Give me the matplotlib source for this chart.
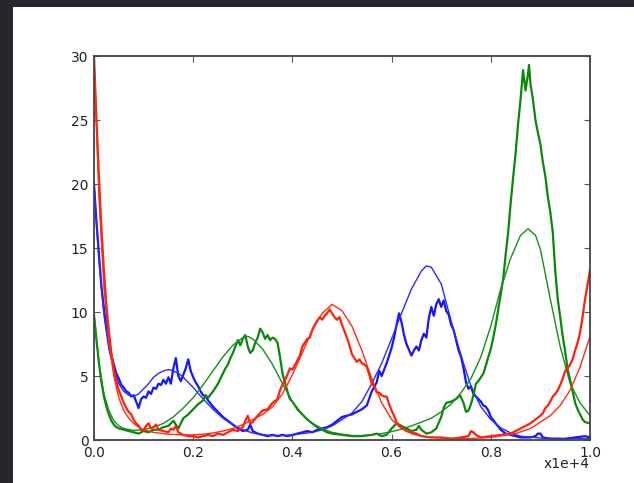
import matplotlib
matplotlib.use('Agg')
import matplotlib.pyplot as plt
from matplotlib.patches import Rectangle

# x positions are in units of 1e4 (as on the axis)
blue_noisy_x = [0.000, 0.005, 0.010, 0.015, 0.020, 0.025, 0.030, 0.035, 0.040, 0.045,
                0.050, 0.055, 0.060, 0.065, 0.070, 0.075, 0.080, 0.085, 0.090, 0.095,
                0.100, 0.105, 0.110, 0.115, 0.120, 0.125, 0.130, 0.135, 0.140, 0.145,
                0.150, 0.155, 0.160, 0.165, 0.170, 0.175, 0.180, 0.185, 0.190, 0.195,
                0.200, 0.205, 0.210, 0.215, 0.220, 0.225, 0.230, 0.240, 0.250, 0.260,
                0.270, 0.280, 0.290, 0.300, 0.310, 0.315, 0.320, 0.330, 0.340, 0.350,
                0.360, 0.370, 0.380, 0.390, 0.400, 0.410, 0.420, 0.430, 0.440, 0.450,
                0.460, 0.470, 0.480, 0.490, 0.500, 0.510, 0.520, 0.530, 0.540, 0.550,
                0.560, 0.570, 0.575, 0.580, 0.590, 0.600, 0.605, 0.610, 0.615, 0.620,
                0.625, 0.630, 0.640, 0.645, 0.650, 0.655, 0.660, 0.665, 0.670, 0.675,
                0.680, 0.685, 0.690, 0.695, 0.700, 0.705, 0.710, 0.715, 0.720, 0.725,
                0.730, 0.735, 0.740, 0.745, 0.750, 0.755, 0.760, 0.765, 0.770, 0.780,
                0.785, 0.790, 0.795, 0.800, 0.810, 0.820, 0.830, 0.840, 0.850, 0.860,
                0.880, 0.890, 0.895, 0.900, 0.905, 0.920, 0.950, 0.970, 0.990, 1.000]
blue_noisy_y = [20.0, 17.0, 14.5, 12.0, 10.3, 8.8, 7.6, 6.6, 5.9, 5.2,
                4.8, 4.3, 4.1, 3.8, 3.7, 3.4, 3.5, 3.0, 2.5, 3.2,
                3.4, 3.3, 3.8, 3.6, 4.1, 4.0, 4.4, 4.3, 4.7, 4.4,
                4.9, 4.4, 5.6, 6.4, 5.0, 4.6, 5.1, 5.6, 6.3, 5.4,
                4.9, 4.5, 4.2, 3.8, 3.5, 3.4, 3.1, 2.6, 2.2, 1.8,
                1.5, 1.2, 0.9, 0.7, 0.8, 1.2, 0.7, 0.5, 0.4, 0.3,
                0.4, 0.3, 0.4, 0.3, 0.4, 0.5, 0.6, 0.7, 0.6, 0.8,
                0.9, 1.0, 1.2, 1.5, 1.8, 1.9, 2.0, 2.2, 2.4, 2.7,
                3.8, 4.5, 5.4, 5.0, 6.0, 7.2, 8.0, 9.0, 9.9, 9.2,
                8.2, 7.5, 6.6, 7.0, 7.3, 7.0, 7.8, 8.3, 8.0, 9.5,
                10.4, 9.7, 10.6, 11.0, 10.4, 10.9, 10.1, 9.8, 9.0, 8.6,
                7.8, 7.0, 6.5, 5.6, 4.5, 4.0, 4.2, 3.6, 3.4, 3.0,
                2.7, 2.6, 2.3, 1.8, 1.3, 0.8, 0.5, 0.4, 0.3, 0.2,
                0.2, 0.3, 0.5, 0.5, 0.2, 0.1, 0.1, 0.2, 0.3, 0.2]

blue_fit_x = [0.00, 0.01, 0.02, 0.03, 0.04, 0.05, 0.06, 0.07, 0.08, 0.09,
              0.10, 0.11, 0.12, 0.13, 0.14, 0.15, 0.16, 0.17, 0.18, 0.19,
              0.20, 0.22, 0.24, 0.26, 0.28, 0.30, 0.32, 0.34, 0.36, 0.38,
              0.40, 0.42, 0.44, 0.46, 0.48, 0.50, 0.52, 0.54, 0.56, 0.58,
              0.60, 0.62, 0.64, 0.66, 0.67, 0.68, 0.70, 0.72, 0.74, 0.76,
              0.78, 0.80, 0.82, 0.84, 0.86, 0.90, 0.95, 1.00]
blue_fit_y = [20.0, 14.0, 9.8, 7.1, 5.5, 4.4, 3.8, 3.5, 3.4, 3.6,
              4.0, 4.4, 4.9, 5.2, 5.4, 5.5, 5.4, 5.2, 4.9, 4.5,
              4.1, 3.2, 2.4, 1.7, 1.2, 0.8, 0.55, 0.4, 0.35, 0.35,
              0.4, 0.5, 0.6, 0.8, 1.1, 1.6, 2.1, 3.0, 4.4, 6.0,
              7.9, 9.9, 11.8, 13.2, 13.6, 13.5, 12.2, 9.3, 6.6, 4.2,
              2.6, 1.6, 0.95, 0.55, 0.3, 0.15, 0.1, 0.1]

red_noisy_x = [0.000, 0.005, 0.010, 0.015, 0.020, 0.025, 0.030, 0.035, 0.040, 0.045,
               0.050, 0.055, 0.060, 0.065, 0.070, 0.075, 0.080, 0.085, 0.090, 0.095,
               0.100, 0.105, 0.110, 0.115, 0.120, 0.125, 0.130, 0.140, 0.150, 0.155,
               0.160, 0.165, 0.170, 0.180, 0.190, 0.200, 0.210, 0.220, 0.230, 0.240,
               0.250, 0.260, 0.270, 0.280, 0.290, 0.300, 0.305, 0.310, 0.315, 0.320,
               0.330, 0.340, 0.350, 0.360, 0.370, 0.375, 0.380, 0.390, 0.395, 0.400,
               0.410, 0.415, 0.420, 0.430, 0.435, 0.440, 0.445, 0.450, 0.455, 0.460,
               0.465, 0.470, 0.475, 0.480, 0.485, 0.490, 0.495, 0.500, 0.505, 0.510,
               0.515, 0.520, 0.525, 0.530, 0.535, 0.540, 0.545, 0.550, 0.555, 0.560,
               0.565, 0.570, 0.575, 0.580, 0.585, 0.590, 0.595, 0.600, 0.605, 0.610,
               0.615, 0.620, 0.630, 0.640, 0.650, 0.660, 0.680, 0.700, 0.720, 0.740,
               0.755, 0.760, 0.765, 0.770, 0.780, 0.800, 0.820, 0.840, 0.850, 0.860,
               0.870, 0.880, 0.890, 0.900, 0.905, 0.910, 0.915, 0.920, 0.925, 0.930,
               0.935, 0.940, 0.945, 0.950, 0.955, 0.960, 0.965, 0.970, 0.975, 0.980,
               0.985, 0.990, 0.995, 1.000]
red_noisy_y = [30.0, 25.0, 20.5, 16.5, 13.2, 10.5, 8.5, 6.8, 5.5, 4.6,
               3.9, 3.4, 2.9, 2.5, 2.2, 2.0, 1.6, 1.3, 1.1, 0.8,
               0.8, 1.1, 1.3, 0.9, 1.0, 1.2, 0.8, 0.7, 0.6, 0.9,
               0.8, 1.1, 0.6, 0.4, 0.3, 0.3, 0.2, 0.3, 0.4, 0.3,
               0.5, 0.4, 0.6, 0.8, 0.7, 1.0, 1.5, 1.9, 1.3, 1.4,
               1.9, 2.3, 2.4, 2.9, 3.2, 3.9, 4.3, 5.1, 5.6, 5.5,
               6.2, 6.6, 7.3, 7.9, 8.0, 8.6, 9.0, 9.3, 9.6, 9.4,
               9.7, 9.9, 10.2, 9.9, 9.6, 9.4, 9.6, 9.0, 8.5, 8.0,
               7.4, 6.7, 6.4, 6.1, 6.3, 6.0, 5.9, 5.7, 5.1, 4.4,
               4.2, 3.7, 3.7, 3.5, 3.4, 3.4, 2.8, 2.3, 1.9, 1.4,
               1.1, 1.0, 0.7, 0.6, 0.5, 0.3, 0.2, 0.2, 0.1, 0.2,
               0.3, 0.7, 0.6, 0.4, 0.2, 0.3, 0.4, 0.5, 0.7, 0.9,
               1.1, 1.3, 1.6, 1.9, 2.1, 2.5, 2.7, 3.0, 3.4, 3.6,
               3.9, 4.3, 4.8, 5.4, 5.6, 5.9, 6.3, 7.0, 7.6, 8.4,
               9.6, 11.0, 12.1, 13.3]

red_fit_x = [0.00, 0.01, 0.02, 0.03, 0.04, 0.05, 0.06, 0.07, 0.08, 0.09,
             0.10, 0.12, 0.15, 0.18, 0.20, 0.22, 0.24, 0.26, 0.28, 0.30,
             0.32, 0.34, 0.36, 0.38, 0.40, 0.42, 0.44, 0.46, 0.48, 0.50,
             0.52, 0.54, 0.56, 0.58, 0.60, 0.62, 0.64, 0.66, 0.70, 0.75,
             0.80, 0.85, 0.88, 0.90, 0.92, 0.94, 0.96, 0.98, 1.00]
red_fit_y = [30.0, 19.0, 12.0, 7.6, 5.0, 3.3, 2.3, 1.7, 1.3, 1.0,
             0.8, 0.6, 0.45, 0.4, 0.4, 0.45, 0.55, 0.7, 0.9, 1.2,
             1.6, 2.0, 2.6, 3.6, 5.1, 6.8, 8.6, 9.9, 10.6, 10.1,
             8.9, 7.0, 4.8, 2.9, 1.6, 0.9, 0.5, 0.3, 0.15, 0.1,
             0.2, 0.5, 0.9, 1.4, 1.9, 2.7, 3.9, 5.7, 8.1]

green_noisy_x = [0.000, 0.005, 0.010, 0.015, 0.020, 0.025, 0.030, 0.035, 0.040, 0.045,
                 0.050, 0.060, 0.070, 0.080, 0.090, 0.100, 0.110, 0.120, 0.130, 0.140,
                 0.150, 0.155, 0.160, 0.165, 0.170, 0.175, 0.180, 0.190, 0.200, 0.210,
                 0.220, 0.225, 0.230, 0.240, 0.250, 0.255, 0.260, 0.265, 0.270, 0.275,
                 0.280, 0.285, 0.290, 0.295, 0.300, 0.305, 0.310, 0.315, 0.320, 0.325,
                 0.330, 0.335, 0.340, 0.345, 0.350, 0.355, 0.360, 0.365, 0.370, 0.375,
                 0.380, 0.385, 0.390, 0.395, 0.400, 0.410, 0.420, 0.430, 0.440, 0.450,
                 0.460, 0.470, 0.480, 0.500, 0.520, 0.540, 0.560, 0.570, 0.580, 0.590,
                 0.600, 0.610, 0.615, 0.620, 0.630, 0.640, 0.650, 0.655, 0.660, 0.670,
                 0.680, 0.690, 0.700, 0.705, 0.710, 0.720, 0.730, 0.738, 0.745, 0.750,
                 0.755, 0.760, 0.765, 0.770, 0.775, 0.780, 0.785, 0.790, 0.795, 0.800,
                 0.805, 0.810, 0.815, 0.820, 0.825, 0.830, 0.835, 0.840, 0.845, 0.850,
                 0.855, 0.860, 0.865, 0.870, 0.875, 0.877, 0.880, 0.885, 0.890, 0.895,
                 0.900, 0.905, 0.910, 0.915, 0.920, 0.925, 0.930, 0.935, 0.940, 0.945,
                 0.950, 0.955, 0.960, 0.965, 0.970, 0.975, 0.980, 0.985, 0.990, 1.000]
green_noisy_y = [9.8, 7.8, 6.0, 4.5, 3.4, 2.6, 2.0, 1.5, 1.2, 1.0,
                 0.9, 0.8, 0.7, 0.6, 0.5, 0.7, 0.6, 0.8, 0.8, 1.0,
                 1.1, 1.3, 1.5, 1.2, 0.9, 1.3, 1.7, 2.0, 2.4, 2.8,
                 3.1, 3.5, 3.3, 3.8, 4.4, 4.8, 5.2, 5.6, 5.9, 6.4,
                 6.8, 7.3, 7.8, 7.4, 7.9, 8.2, 7.3, 6.8, 7.0, 7.6,
                 8.0, 8.7, 8.4, 7.9, 8.2, 7.8, 8.0, 7.9, 7.6, 6.5,
                 5.2, 4.5, 3.8, 3.2, 3.0, 2.4, 2.0, 1.6, 1.3, 1.0,
                 0.8, 0.6, 0.5, 0.4, 0.3, 0.3, 0.4, 0.5, 0.3, 0.4,
                 0.9, 1.3, 1.2, 1.1, 0.9, 0.7, 0.8, 1.1, 0.8, 0.5,
                 0.6, 0.9, 1.8, 2.5, 2.9, 3.0, 3.2, 3.5, 2.9, 2.2,
                 2.3, 2.8, 3.5, 4.4, 4.6, 4.9, 5.2, 5.8, 6.5, 7.1,
                 8.0, 9.0, 10.2, 11.4, 12.6, 14.5, 16.2, 18.5, 20.5, 22.4,
                 24.7, 26.6, 28.9, 27.3, 28.6, 29.3, 27.8, 26.6, 25.0, 24.0,
                 23.1, 21.7, 20.6, 19.0, 17.8, 16.2, 13.2, 11.0, 9.6, 8.1,
                 6.9, 5.5, 4.7, 3.8, 2.9, 2.4, 2.0, 1.6, 1.4, 1.3]

green_fit_x = [0.00, 0.01, 0.02, 0.03, 0.04, 0.05, 0.06, 0.08, 0.10, 0.12,
               0.14, 0.16, 0.18, 0.20, 0.22, 0.24, 0.26, 0.28, 0.30, 0.31,
               0.32, 0.34, 0.36, 0.38, 0.40, 0.42, 0.44, 0.46, 0.48, 0.50,
               0.52, 0.54, 0.56, 0.58, 0.60, 0.62, 0.64, 0.66, 0.68, 0.70,
               0.72, 0.74, 0.76, 0.78, 0.80, 0.82, 0.84, 0.86, 0.875, 0.89,
               0.90, 0.92, 0.94, 0.96, 0.98, 1.00]
green_fit_y = [9.8, 6.0, 3.6, 2.3, 1.5, 1.1, 0.9, 0.75, 0.8, 1.0,
               1.3, 1.8, 2.5, 3.3, 4.3, 5.4, 6.5, 7.4, 8.0, 8.1,
               7.9, 7.1, 5.9, 4.4, 3.0, 2.0, 1.3, 0.9, 0.6, 0.45,
               0.35, 0.35, 0.4, 0.5, 0.65, 0.85, 1.1, 1.4, 1.7, 2.2,
               2.8, 3.7, 4.8, 6.5, 8.9, 11.8, 14.2, 16.0, 16.5, 16.0,
               14.9, 11.0, 7.3, 4.4, 2.9, 1.9]

x_ticks = [0.0, 0.2, 0.4, 0.6, 0.8, 1.0]
y_ticks = [0, 5, 10, 15, 20, 25, 30]

fig = plt.figure(figsize=(6.34, 4.83), dpi=100)
fig.patch.set_facecolor('#26262c')
# white slide panel behind the axes
fig.patches.append(Rectangle((13 / 634, 0), 1, 476 / 483, transform=fig.transFigure,
                             facecolor='white', edgecolor='none', zorder=-10))

ax = fig.add_axes([94 / 634, 1 - 440 / 483, 496 / 634, 384 / 483])
ax.set_zorder(5)

ax.plot(blue_noisy_x, blue_noisy_y, color='#1515ff', lw=1.6)
ax.plot(blue_fit_x, blue_fit_y, color='#2a2aff', lw=1.0)
ax.plot(green_noisy_x, green_noisy_y, color='#0a880a', lw=1.6)
ax.plot(green_fit_x, green_fit_y, color='#1a8c1a', lw=1.0)
ax.plot(red_noisy_x, red_noisy_y, color='#ff200a', lw=1.6)
ax.plot(red_fit_x, red_fit_y, color='#ff2a14', lw=1.0)

ax.set_xlim(0, 1)
ax.set_ylim(0, 30)
ax.set_xticks(x_ticks)
ax.set_xticklabels(['%.1f' % t for t in x_ticks])
ax.set_yticks(y_ticks)
ax.tick_params(direction='in', top=True, right=True, length=4, width=0.8,
               color='#555555', labelsize=10, labelcolor='#222222', pad=4)
for s in ax.spines.values():
    s.set_color('#444444')
    s.set_linewidth(1.3)

ax.text(1.0, -0.045, 'x1e+4', transform=ax.transAxes, ha='right', va='top',
        fontsize=10, color='#222222')

fig.savefig('out.png', dpi=100, facecolor=fig.get_facecolor())
